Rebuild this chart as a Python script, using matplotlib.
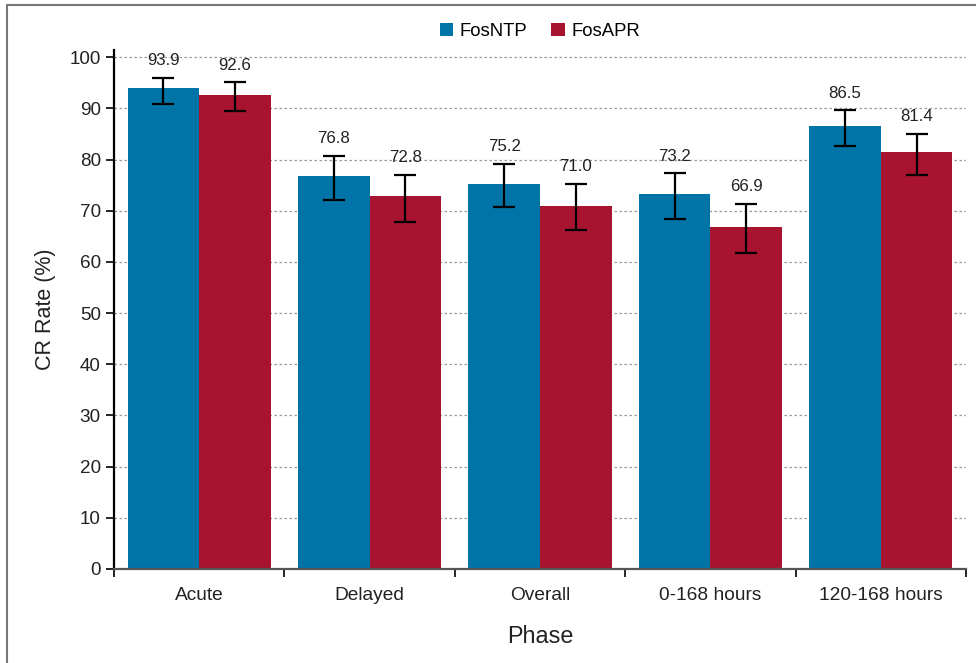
import matplotlib.pyplot as plt
import numpy as np
from matplotlib.patches import Rectangle

plt.rcParams["font.family"] = ["Liberation Sans", "DejaVu Sans"]

# 数据
phases = ["Acute", "Delayed", "Overall", "0-168 hours", "120-168 hours"]
ntp_rate = [93.9, 76.8, 75.2, 73.2, 86.5]
apr_rate = [92.6, 72.8, 71.0, 66.9, 81.4]
ntp_lo = [90.8, 72.1, 70.7, 68.3, 82.6]
ntp_hi = [96.0, 80.7, 79.2, 77.3, 89.6]
apr_lo = [89.5, 67.8, 66.3, 61.7, 77.0]
apr_hi = [95.1, 77.0, 75.3, 71.3, 85.0]

blue = "#0074a6"
red = "#a8142f"

fig = plt.figure(figsize=(9.76, 6.63), dpi=100)
ax = fig.add_axes([0.1168, 0.1418, 0.873, 0.7828])

# 外框
fig.patches.append(Rectangle((7 / 976, -0.05), 1.2, 1 - 5 / 663 + 0.05,
                             transform=fig.transFigure, fill=False,
                             edgecolor="#777777", linewidth=1.5))

x = np.arange(len(phases))
w = 0.42

for off, rate, lo, hi, col, name in [(-0.21, ntp_rate, ntp_lo, ntp_hi, blue, "FosNTP"),
                                     (0.21, apr_rate, apr_lo, apr_hi, red, "FosAPR")]:
    rate = np.array(rate)
    err = [rate - np.array(lo), np.array(hi) - rate]
    ax.bar(x + off, rate, width=w, color=col, label=name, zorder=2)
    ax.errorbar(x + off, rate, yerr=err, fmt="none", ecolor="black",
                elinewidth=1.6, capsize=8, capthick=1.6, zorder=3)
    for xi, h, v in zip(x + off, hi, rate):
        ax.annotate(f"{v:.1f}", (xi, h), xytext=(0, 7), textcoords="offset points",
                    ha="center", va="bottom", fontsize=12.2, color="#222222")

ax.set_xlim(-0.5, len(phases) - 0.5)
ax.set_ylim(0, 101.4)
ax.set_yticks(range(0, 101, 10))
ax.set_xticks(x)
ax.set_xticklabels(phases)
ax.set_xticks(np.arange(-0.5, len(phases)), minor=True)
ax.tick_params(axis="x", which="major", length=0, pad=13, labelsize=13.8, colors="#222222")
ax.tick_params(axis="x", which="minor", length=6, width=1.2, color="black")
ax.tick_params(axis="y", length=6, width=1.2, labelsize=13.6, colors="black", labelcolor="#222222")

ax.yaxis.grid(True, linestyle=(0, (2, 2)), color="#999999", linewidth=0.9, zorder=0)
ax.set_axisbelow(True)

for s in ["top", "right"]:
    ax.spines[s].set_visible(False)
ax.spines["left"].set_linewidth(1.6)
ax.spines["bottom"].set_color("#555555")
ax.spines["bottom"].set_linewidth(1.6)

ax.set_ylabel("CR Rate (%)", fontsize=15.5, color="#222222", labelpad=10)
ax.set_xlabel("Phase", fontsize=16.8, color="#222222", labelpad=15)

ax.legend(loc="upper center", bbox_to_anchor=(0.5, 1.085), ncol=2, frameon=False,
          fontsize=13.3, handlelength=0.75, handleheight=0.75, columnspacing=1.3,
          handletextpad=0.35)

fig.savefig("out.png", dpi=100)
